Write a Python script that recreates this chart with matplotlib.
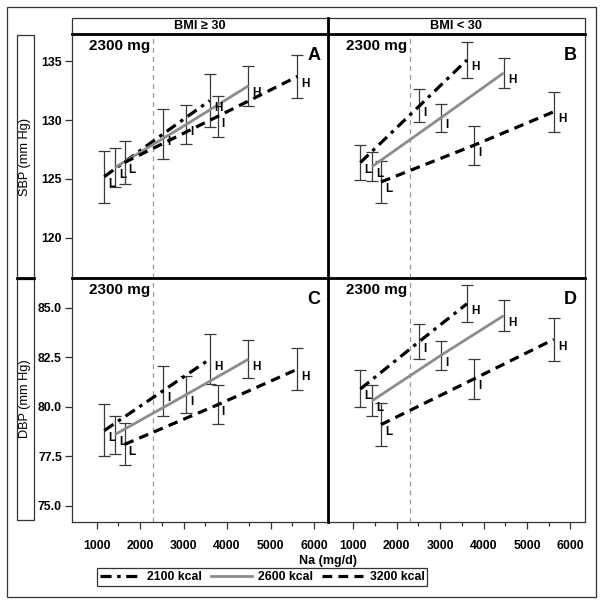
import matplotlib
matplotlib.use("Agg")
import matplotlib.pyplot as plt
from matplotlib.patches import Rectangle
from matplotlib.lines import Line2D
from matplotlib.ticker import FormatStrFormatter, FixedLocator
import matplotlib.transforms as mtransforms

plt.rcParams['font.family'] = ['Liberation Sans', 'DejaVu Sans']
plt.rcParams['lines.scale_dashes'] = False

# sodium intake (mg/d) at low / intermediate / high level, per diet
na_obese = {"2100": [1175, 2520, 3600], "2600": [1420, 3050, 4490], "3200": [1640, 3780, 5620]}
na_lean = {"2100": [1170, 2526, 3620], "2600": [1437, 3023, 4464], "3200": [1644, 3775, 5614]}

# panel A: SBP, BMI >= 30
sbp_obese = {"2100": [125.2, 128.8, 131.65], "2600": [125.97, 129.6, 132.9], "3200": [126.4, 130.3, 133.7]}
sbp_obese_lo = {"2100": [123.0, 126.7, 129.43], "2600": [124.3, 127.97, 131.2], "3200": [124.58, 128.6, 131.9]}
sbp_obese_hi = {"2100": [127.4, 130.9, 133.87], "2600": [127.65, 131.27, 134.6], "3200": [128.2, 132.0, 135.5]}
# panel B: SBP, BMI < 30
sbp_lean = {"2100": [126.4, 131.2, 135.1], "2600": [126.05, 130.2, 134.0], "3200": [124.75, 127.85, 130.7]}
sbp_lean_lo = {"2100": [124.94, 129.8, 133.6], "2600": [124.8, 129.0, 132.7], "3200": [123.0, 126.2, 129.0]}
sbp_lean_hi = {"2100": [127.9, 132.6, 136.6], "2600": [127.3, 131.4, 135.3], "3200": [126.5, 129.5, 132.4]}
# panel C: DBP, BMI >= 30
dbp_obese = {"2100": [78.8, 80.8, 82.4], "2600": [78.6, 80.6, 82.4], "3200": [78.1, 80.1, 81.9]}
dbp_obese_lo = {"2100": [77.5, 79.56, 81.14], "2600": [77.63, 79.7, 81.44], "3200": [77.07, 79.14, 80.85]}
dbp_obese_hi = {"2100": [80.12, 82.07, 83.68], "2600": [79.56, 81.53, 83.37], "3200": [79.16, 81.09, 82.97]}
# panel D: DBP, BMI < 30
dbp_lean = {"2100": [80.9, 83.3, 85.2], "2600": [80.3, 82.6, 84.6], "3200": [79.1, 81.4, 83.4]}
dbp_lean_lo = {"2100": [79.98, 82.41, 84.27], "2600": [79.53, 81.88, 83.83], "3200": [78.0, 80.41, 82.32]}
dbp_lean_hi = {"2100": [81.85, 84.19, 86.17], "2600": [81.1, 83.34, 85.41], "3200": [80.21, 82.41, 84.49]}

level_labels = ["L", "I", "H"]
diets = ["2100", "2600", "3200"]
legend_labels = ["2100 kcal", "2600 kcal", "3200 kcal"]

styles = {
  "2100": dict(color="black", lw=2.3, dashes=(8, 4, 2.5, 4)),
  "2600": dict(color="#8c8c8c", lw=2.0, dashes=()),
  "3200": dict(color="black", lw=2.3, dashes=(7, 4.5)),
}

fig = plt.figure(figsize=(6.04, 6.04), dpi=100)
W = 604.0

def fx(px):
  return px / W

def fy(py):
  return 1 - py / W

# outer frame
fig.add_artist(Rectangle((fx(7), fy(597)), fx(589), (590) / W, transform=fig.transFigure,
                         fill=False, lw=0.9, ec="#333333"))

left_x = [71.7, 328.0]
right_x = [328.0, 584.5]
rows = [(34.0, 278.0), (278.0, 521.7)]

panels = [
  (0, 0, na_obese, sbp_obese, sbp_obese_lo, sbp_obese_hi, "A"),
  (0, 1, na_lean, sbp_lean, sbp_lean_lo, sbp_lean_hi, "B"),
  (1, 0, na_obese, dbp_obese, dbp_obese_lo, dbp_obese_hi, "C"),
  (1, 1, na_lean, dbp_lean, dbp_lean_lo, dbp_lean_hi, "D"),
]

for r, c, na, mid, lo, hi, letter in panels:
  x0 = left_x[c]
  x1 = right_x[c]
  y0, y1 = rows[r]
  ax = fig.add_axes([fx(x0), fy(y1), (x1 - x0) / W, (y1 - y0) / W])
  for s in ax.spines.values():
    s.set_linewidth(0.9)
    s.set_color("#333333")
  ax.set_xlim(425, 6322)
  if r == 0:
    ax.set_ylim(116.6, 137.3)
    ax.set_yticks([120, 125, 130, 135])
  else:
    ax.set_ylim(74.2, 86.5)
    ax.set_yticks([75.0, 77.5, 80.0, 82.5, 85.0])
    ax.yaxis.set_major_formatter(FormatStrFormatter("%.1f"))
  ax.set_xticks([1000, 2000, 3000, 4000, 5000, 6000])
  ax.xaxis.set_minor_locator(FixedLocator([1500, 2500, 3500, 4500, 5500]))
  ax.tick_params(axis="both", which="major", direction="out", length=5, width=0.9,
                 color="#333333", labelsize=8.8, pad=2)
  ax.tick_params(axis="x", which="minor", direction="out", length=3, width=0.9, color="#333333")
  for t in ax.get_xticklabels() + ax.get_yticklabels():
    t.set_fontweight("bold")
  if r == 0:
    ax.tick_params(axis="x", which="both", bottom=False, labelbottom=False)
  else:
    ax.tick_params(axis="x", which="major", pad=8)
  if c == 1:
    ax.tick_params(axis="y", left=False, labelleft=False)

  ax.axvline(2300, color="#999999", lw=0.9, dashes=(3.5, 3), zorder=1)

  for d in diets:
    xs = na[d]
    ys = mid[d]
    yerr = [[m - l for m, l in zip(ys, lo[d])], [h - m for m, h in zip(ys, hi[d])]]
    ax.errorbar(xs, ys, yerr=yerr, fmt="none", ecolor="#3a3a3a", elinewidth=0.9,
                capsize=4, capthick=0.9, zorder=2)
    st = styles[d]
    ln, = ax.plot(xs, ys, color=st["color"], lw=st["lw"], zorder=3, solid_capstyle="butt",
                  dash_capstyle="butt")
    if st["dashes"]:
      ln.set_dashes(st["dashes"])
    for xv, yv, lab in zip(xs, ys, level_labels):
      ax.annotate(lab, (xv, yv), xytext=(3, -1), textcoords="offset points",
                  ha="left", va="top", fontsize=8.5, fontweight="bold", zorder=4)

  trans = mtransforms.blended_transform_factory(ax.transData, ax.transAxes)
  ax.text(2240, 0.978, "2300 mg", transform=trans, ha="right", va="top",
          fontsize=11, fontweight="bold")
  ax.text(0.97, 0.945, letter, transform=ax.transAxes, ha="right", va="top",
          fontsize=13, fontweight="bold")

# thick dividers between panels
fig.add_artist(Line2D([fx(71.7), fx(584.5)], [fy(278), fy(278)], transform=fig.transFigure,
                      color="black", lw=2.0))
fig.add_artist(Line2D([fx(328), fx(328)], [fy(17.7), fy(521.7)], transform=fig.transFigure,
                      color="black", lw=2.0))

# strip headers
for c, txt in enumerate(["BMI \u2265 30", "BMI < 30"]):
  x0 = left_x[c]
  x1 = right_x[c]
  fig.add_artist(Rectangle((fx(x0), fy(34)), (x1 - x0) / W, 16.3 / W, transform=fig.transFigure,
                           fill=False, lw=0.9, ec="#333333"))
  fig.text(fx((x0 + x1) / 2), fy(26), txt, ha="center", va="center", fontsize=9.2,
           fontweight="bold")
fig.add_artist(Line2D([fx(71.7), fx(584.5)], [fy(34), fy(34)], transform=fig.transFigure,
                      color="black", lw=2.0))

# y label boxes
for (y0, y1), txt in zip([(35, 279), (278, 520)], ["SBP (mm Hg)", "DBP (mm Hg)"]):
  fig.add_artist(Rectangle((fx(17), fy(y1)), 17 / W, (y1 - y0) / W, transform=fig.transFigure,
                           fill=False, lw=0.9, ec="#333333"))
  fig.text(fx(25.5), fy((y0 + y1) / 2), txt, rotation=90, ha="center", va="center",
           fontsize=9.2)
fig.add_artist(Line2D([fx(17), fx(34)], [fy(278), fy(278)], transform=fig.transFigure,
                      color="black", lw=2.0))

fig.text(fx(328), fy(561), "Na (mg/d)", ha="center", va="center", fontsize=9,
         fontweight="bold")

handles = []
for d in diets:
  st = styles[d]
  h = Line2D([], [], color=st["color"], lw=st["lw"])
  if st["dashes"]:
    h.set_dashes(st["dashes"])
  handles.append(h)
leg = fig.legend(handles, legend_labels, loc="center", bbox_to_anchor=(fx(262), fy(577)),
                 ncol=3, frameon=True, fancybox=False, edgecolor="black", fontsize=8.8,
                 handlelength=3.4, columnspacing=0.7, handletextpad=0.5,
                 borderpad=0.25, borderaxespad=0)
leg.get_frame().set_linewidth(0.9)
for t in leg.get_texts():
  t.set_fontweight("bold")

fig.savefig("out.png", dpi=100)
